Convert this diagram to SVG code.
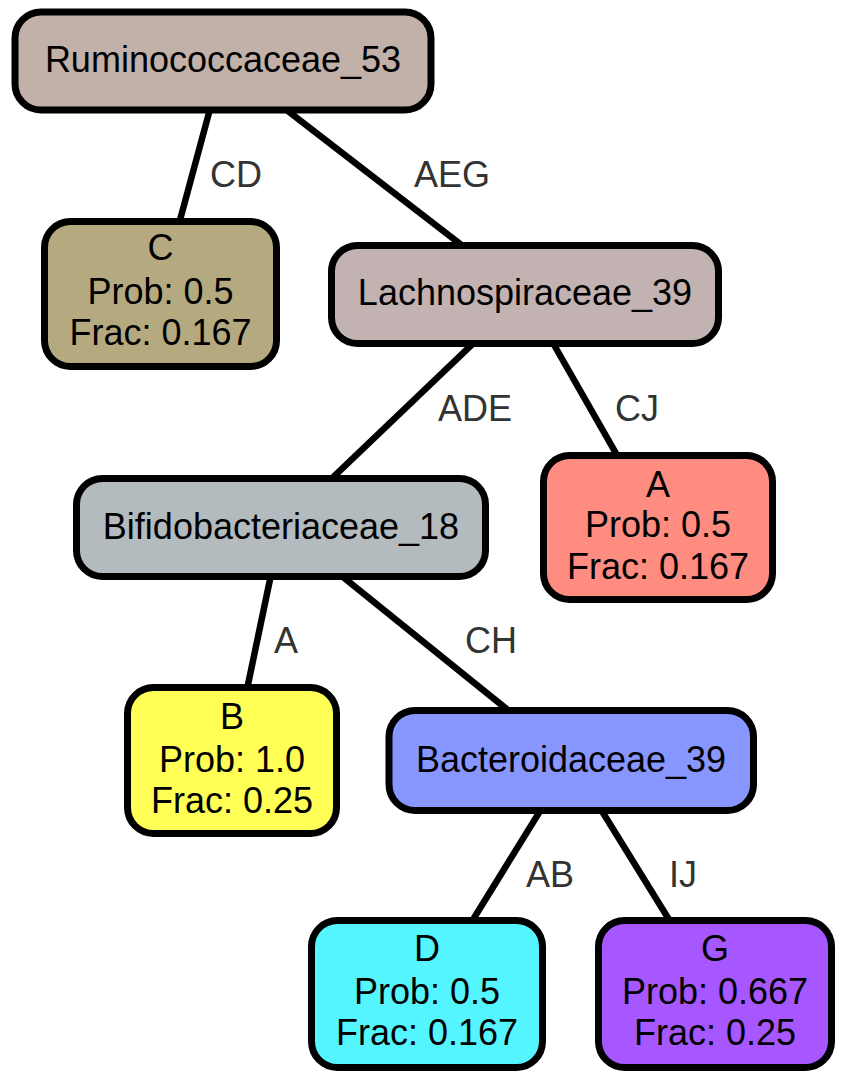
<svg xmlns="http://www.w3.org/2000/svg" width="847" height="1079" viewBox="0 0 847 1079">
<style>
.n{stroke:#000;stroke-width:7}
.t{font-family:"Liberation Sans",Arial,Helvetica,sans-serif;font-size:36px;fill:#000;text-anchor:middle}
.e{stroke:#000;stroke-width:6.5;fill:none}
.l{font-family:"Liberation Sans",Arial,Helvetica,sans-serif;font-size:36px;fill:#333}
</style>
<rect width="847" height="1079" fill="#fff"/>
<g id="connectors">
<line class="e" x1="223" y1="61" x2="160" y2="294"/>
<line class="e" x1="223" y1="61" x2="525" y2="294"/>
<line class="e" x1="525" y1="294" x2="281" y2="527"/>
<line class="e" x1="525" y1="294" x2="658" y2="527"/>
<line class="e" x1="281" y1="527" x2="232" y2="761"/>
<line class="e" x1="281" y1="527" x2="571" y2="761"/>
<line class="e" x1="571" y1="761" x2="427" y2="994"/>
<line class="e" x1="571" y1="761" x2="715" y2="994"/>
<text class="l" x="210" y="187">CD</text>
<text class="l" x="414" y="187">AEG</text>
<text class="l" x="438" y="421">ADE</text>
<text class="l" x="615" y="421">CJ</text>
<text class="l" x="274" y="653">A</text>
<text class="l" x="465" y="653">CH</text>
<text class="l" x="526" y="887">AB</text>
<text class="l" x="669" y="887">IJ</text>
</g>
<g id="Ruminococcaceae_53">
<rect class="n" x="15" y="12" width="416" height="98" rx="26" fill="#c2b1a9"/>
<text class="t" x="223" y="72">Ruminococcaceae_53</text>
</g>
<g id="C">
<rect class="n" x="44.5" y="221.5" width="232" height="145" rx="26" fill="#b5aa7f"/>
<text class="t" x="160.5" y="260">C</text>
<text class="t" x="160.5" y="304">Prob: 0.5</text>
<text class="t" x="160.5" y="345">Frac: 0.167</text>
</g>
<g id="Lachnospiraceae_39">
<rect class="n" x="331.5" y="245.5" width="387" height="98" rx="26" fill="#c2b2b2"/>
<text class="t" x="525" y="305">Lachnospiraceae_39</text>
</g>
<g id="A">
<rect class="n" x="543.5" y="455.5" width="229" height="144" rx="26" fill="#ff8c80"/>
<text class="t" x="658" y="497">A</text>
<text class="t" x="658" y="537">Prob: 0.5</text>
<text class="t" x="658" y="579">Frac: 0.167</text>
</g>
<g id="Bifidobacteriaceae_18">
<rect class="n" x="76.5" y="478.5" width="409" height="98" rx="26" fill="#b4bbbe"/>
<text class="t" x="281" y="539">Bifidobacteriaceae_18</text>
</g>
<g id="B">
<rect class="n" x="127.5" y="687.5" width="209" height="146" rx="26" fill="#ffff55"/>
<text class="t" x="232" y="729">B</text>
<text class="t" x="232" y="772">Prob: 1.0</text>
<text class="t" x="232" y="813">Frac: 0.25</text>
</g>
<g id="Bacteroidaceae_39">
<rect class="n" x="389" y="710.5" width="364.5" height="100" rx="26" fill="#8896ff"/>
<text class="t" x="571" y="772">Bacteroidaceae_39</text>
</g>
<g id="D">
<rect class="n" x="311.5" y="920.5" width="231" height="147" rx="26" fill="#55f5ff"/>
<text class="t" x="427" y="961">D</text>
<text class="t" x="427" y="1004">Prob: 0.5</text>
<text class="t" x="427" y="1045">Frac: 0.167</text>
</g>
<g id="G">
<rect class="n" x="598.5" y="920.5" width="233" height="147" rx="26" fill="#a757ff"/>
<text class="t" x="715" y="961">G</text>
<text class="t" x="715" y="1004">Prob: 0.667</text>
<text class="t" x="715" y="1045">Frac: 0.25</text>
</g>
</svg>
